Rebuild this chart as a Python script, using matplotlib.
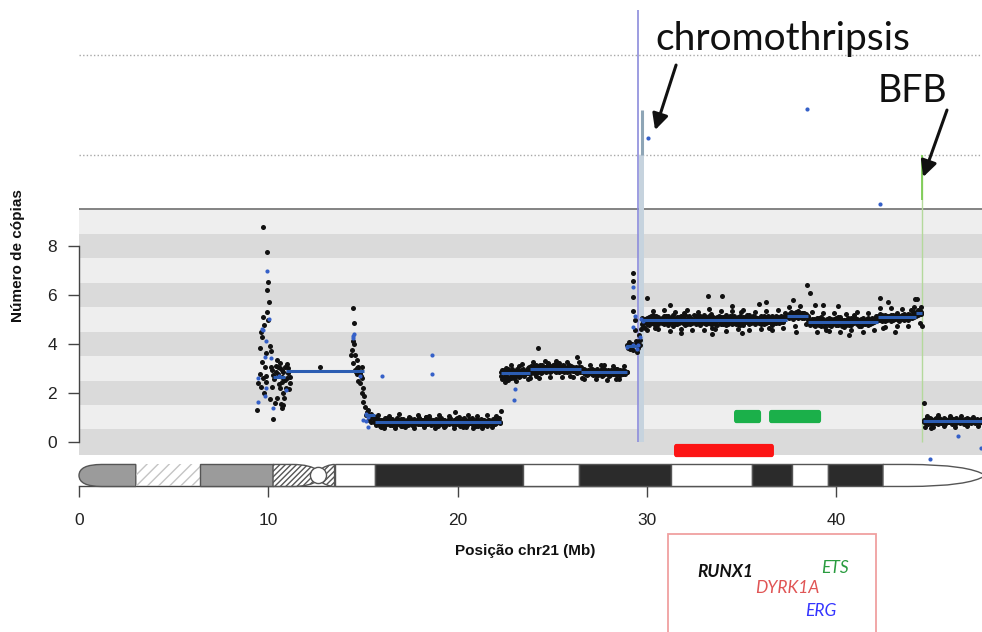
import numpy as np
import matplotlib
matplotlib.use('Agg')
import matplotlib.pyplot as plt
from matplotlib.patches import Rectangle, PathPatch, Ellipse, FancyBboxPatch
from matplotlib.path import Path

# ---------------- data ----------------
x_ticks = [0, 10, 20, 30, 40]
y_ticks = [0, 2, 4, 6, 8]

# scattered bins, region ~10 Mb
cloud_pts = [(9.74, 8.79), (9.95, 7.77), (10.0, 6.52), (9.95, 6.20), (10.05, 5.71), (9.92, 5.29),
             (9.70, 5.11), (10.0, 4.97), (9.79, 4.76), (9.60, 4.50), (9.65, 4.27), (10.09, 3.91),
             (9.56, 3.82), (10.15, 3.72), (9.88, 3.61), (9.65, 3.25), (10.44, 3.34), (10.62, 3.20),
             (10.15, 3.07), (9.83, 3.07), (10.97, 3.18), (11.06, 3.00), (9.56, 2.77), (9.88, 2.70),
             (10.41, 2.86), (10.71, 2.66), (10.88, 2.52), (11.15, 2.39), (9.47, 2.39), (9.60, 2.25),
             (10.18, 2.25), (10.62, 2.18), (10.79, 1.98), (9.79, 1.98), (10.44, 1.77), (10.79, 1.50),
             (9.39, 1.30), (10.26, 0.92), (10.35, 1.57), (10.74, 1.37), (11.15, 2.66), (11.06, 2.80),
             (10.53, 3.07), (10.71, 2.93), (10.26, 2.73), (12.73, 3.07), (10.30, 2.55), (10.50, 2.75),
             (10.60, 3.00), (10.80, 2.85), (10.90, 3.05), (11.00, 2.60), (10.40, 3.10), (10.70, 2.45),
             (10.95, 2.20), (10.55, 2.35), (10.20, 2.95), (9.70, 2.60), (9.90, 2.45), (10.10, 1.75),
             (10.85, 1.80), (10.65, 1.55), (11.10, 2.15)]

# scattered bins, region ~15 Mb
spike_pts = [(14.49, 5.45), (14.53, 4.84), (14.40, 3.75), (14.58, 3.54), (14.35, 3.54), (14.67, 3.34),
             (14.49, 3.20), (14.76, 3.07), (14.58, 2.93), (14.93, 3.07), (14.84, 2.80), (14.67, 2.75),
             (14.93, 2.59), (14.84, 2.39), (15.02, 2.18), (14.93, 1.98), (15.02, 1.64), (15.11, 1.43),
             (15.20, 1.23), (15.37, 1.09), (15.55, 0.96), (15.15, 1.10), (15.30, 0.90), (15.45, 0.80),
             (14.70, 3.00), (14.80, 2.90), (14.62, 2.85), (14.88, 2.70), (14.75, 2.50), (15.05, 1.85),
             (15.25, 1.30), (15.40, 1.15), (15.50, 1.05), (15.35, 0.95), (14.45, 4.10), (14.52, 4.00)]

# scattered bins, region ~29 Mb
jump_pts = [(29.28, 6.88), (29.28, 6.58), (29.28, 5.93), (29.25, 5.36), (30.02, 5.89), (29.37, 4.97),
            (29.37, 4.56), (29.60, 4.36), (29.63, 4.16), (29.04, 4.09), (28.93, 3.95), (29.16, 3.88),
            (29.37, 3.95), (29.55, 3.82), (29.28, 3.75), (29.10, 3.78), (29.46, 3.68), (29.65, 3.95),
            (29.42, 4.10), (29.00, 3.85), (29.20, 4.00), (29.50, 4.05), (29.68, 4.60), (29.72, 4.80),
            (29.75, 5.05)]

# isolated black outliers
out_pts = [(19.88, 1.23), (22.28, 1.27), (24.26, 3.82), (26.29, 3.45), (31.2, 5.60), (33.2, 5.95),
           (33.95, 5.95), (34.5, 5.55), (35.9, 5.65), (36.3, 5.70), (37.7, 5.80), (38.45, 6.40),
           (38.6, 6.10), (38.9, 5.60), (39.3, 5.60), (40.1, 5.55), (42.3, 5.87), (42.75, 5.70),
           (44.15, 5.85), (44.25, 5.83), (31.8, 4.45), (33.45, 4.40), (35.0, 4.45), (37.9, 4.50),
           (40.7, 4.35), (43.1, 4.50), (44.55, 4.75), (44.5, 5.50), (44.65, 1.58), (44.7, 0.62),
           (45.0, 0.58)]

# ragged edges of the dense bands
low_fringe = [(15.8, 1.08), (16.1, 0.58), (16.4, 1.05), (16.7, 0.55), (16.9, 1.12), (17.2, 0.60),
              (17.45, 1.02), (17.7, 0.56), (17.9, 1.08), (18.2, 0.62), (18.5, 1.04), (18.8, 0.57),
              (19.0, 1.10), (19.3, 0.60), (19.55, 1.06), (19.8, 0.55), (20.05, 1.03), (20.3, 0.61),
              (20.55, 1.09), (20.8, 0.58), (21.05, 1.05), (21.3, 0.56), (21.55, 1.11), (21.8, 0.60),
              (22.05, 1.04), (16.25, 0.98), (17.05, 0.63), (17.95, 0.99), (18.95, 0.64), (19.95, 0.99),
              (20.95, 0.63), (21.95, 0.98), (15.95, 0.62), (18.35, 1.00), (20.45, 0.62)]
mid_fringe = [(22.5, 2.45), (22.8, 3.15), (23.1, 2.50), (23.4, 3.18), (23.7, 2.55), (24.0, 3.25),
              (24.3, 2.62), (24.6, 3.28), (24.9, 2.64), (25.2, 3.30), (25.5, 2.66), (25.8, 3.27),
              (26.1, 2.63), (26.4, 3.24), (26.7, 2.58), (27.0, 3.15), (27.3, 2.55), (27.6, 3.12),
              (27.9, 2.52), (28.2, 3.10), (28.5, 2.55), (28.8, 3.08), (22.65, 2.52), (23.25, 3.10),
              (24.15, 2.68), (25.35, 3.22), (26.55, 2.62), (27.75, 3.14), (28.35, 2.58), (25.95, 2.70),
              (24.75, 3.20), (23.85, 2.60)]
high_fringe = [(30.0, 4.55), (30.3, 5.35), (30.6, 4.60), (30.9, 5.40), (31.2, 4.52), (31.5, 5.32),
               (31.8, 4.62), (32.1, 5.38), (32.4, 4.55), (32.7, 5.30), (33.0, 4.58), (33.3, 5.42),
               (33.6, 4.60), (33.9, 5.35), (34.2, 4.54), (34.5, 5.33), (34.8, 4.62), (35.1, 5.40),
               (35.4, 4.56), (35.7, 5.31), (36.0, 4.60), (36.3, 5.36), (36.6, 4.55), (36.9, 5.38),
               (37.2, 4.65), (37.5, 5.50), (37.8, 4.75), (38.1, 5.55), (38.4, 4.80), (38.7, 5.30),
               (39.0, 4.50), (39.3, 5.25), (39.6, 4.52), (39.9, 5.28), (40.2, 4.48), (40.5, 5.22),
               (40.8, 4.55), (41.1, 5.30), (41.4, 4.50), (41.7, 5.26), (42.0, 4.58), (42.3, 5.45),
               (42.6, 4.70), (42.9, 5.48), (43.2, 4.72), (43.5, 5.42), (43.8, 4.75), (44.1, 5.50),
               (44.4, 4.85), (30.45, 4.65), (31.95, 5.28), (33.45, 4.63), (34.95, 5.30), (36.45, 4.64),
               (39.45, 4.58), (40.95, 5.20), (42.45, 4.66), (43.95, 5.40)]
tail_fringe = [(44.8, 1.05), (45.1, 0.62), (45.4, 1.08), (45.7, 0.64), (46.0, 1.04), (46.3, 0.60),
               (46.6, 1.06), (46.9, 0.65), (47.2, 1.02), (47.5, 0.63)]

# blue bins
blue_pts = [(9.95, 6.98), (10.05, 5.03), (9.65, 4.62), (9.70, 4.55), (9.88, 4.13), (9.84, 3.48),
            (10.12, 3.41), (9.47, 2.59), (9.88, 2.18), (9.83, 1.88), (9.43, 1.64), (10.26, 1.39),
            (10.92, 2.11), (10.58, 2.70), (14.47, 4.32), (14.50, 4.24), (14.55, 4.40), (14.85, 2.70),
            (15.15, 1.15), (15.25, 1.00), (15.25, 0.61), (15.15, 0.85), (15.02, 0.89), (16.0, 2.69),
            (18.65, 3.54), (18.65, 2.77), (23.03, 2.14), (22.98, 1.70), (29.28, 6.31), (29.28, 4.70),
            (28.97, 3.88), (29.28, 3.96), (29.55, 3.96), (29.45, 3.80), (29.63, 4.30), (29.37, 5.15),
            (29.70, 5.00), (29.80, 4.95), (30.06, 12.42), (38.46, 13.60), (42.31, 9.71),
            (44.95, -0.69), (46.45, 0.23), (47.63, -0.27)]

# dense band ~0.8 copies (15.6-22.3 Mb)
low_x = [15.60, 15.66, 15.71, 15.78, 15.85, 15.90, 15.97, 16.03, 16.10, 16.16,
         16.22, 16.29, 16.35, 16.41, 16.48, 16.55, 16.61, 16.67, 16.74, 16.80,
         16.86, 16.93, 16.99, 17.06, 17.12, 17.18, 17.25, 17.31, 17.38, 17.44,
         17.50, 17.57, 17.63, 17.70, 17.76, 17.82, 17.89, 17.95, 18.02, 18.08,
         18.14, 18.21, 18.27, 18.34, 18.40, 18.46, 18.53, 18.59, 18.66, 18.72,
         18.78, 18.85, 18.91, 18.98, 19.04, 19.10, 19.17, 19.23, 19.30, 19.36,
         19.42, 19.49, 19.55, 19.62, 19.68, 19.74, 19.81, 19.87, 19.94, 20.00,
         20.06, 20.13, 20.19, 20.26, 20.32, 20.38, 20.45, 20.51, 20.58, 20.64,
         20.70, 20.77, 20.83, 20.90, 20.96, 21.02, 21.09, 21.15, 21.22, 21.28,
         21.34, 21.41, 21.47, 21.54, 21.60, 21.66, 21.73, 21.79, 21.86, 21.92,
         21.98, 22.05, 22.11, 22.18, 22.24]
low_y1 = [0.95, 0.88, 0.78, 0.85, 0.72, 0.81, 0.90, 0.76, 0.83, 0.70,
          0.79, 0.86, 0.74, 0.92, 0.80, 0.68, 0.84, 0.77, 0.89, 0.73,
          0.82, 0.75, 0.91, 0.79, 0.70, 0.86, 0.81, 0.74, 0.88, 0.77,
          0.83, 0.69, 0.80, 0.93, 0.76, 0.85, 0.72, 0.81, 0.78, 0.87,
          0.74, 0.90, 0.79, 0.83, 0.71, 0.86, 0.77, 0.82, 0.75, 0.89,
          0.80, 0.73, 0.85, 0.78, 0.92, 0.76, 0.81, 0.70, 0.87, 0.79,
          0.84, 0.75, 0.90, 0.77, 0.82, 0.72, 0.88, 0.80, 0.74, 0.86,
          0.79, 0.83, 0.71, 0.91, 0.77, 0.85, 0.73, 0.82, 0.78, 0.89,
          0.75, 0.81, 0.86, 0.72, 0.80, 0.93, 0.77, 0.84, 0.74, 0.87,
          0.79, 0.70, 0.85, 0.81, 0.76, 0.90, 0.78, 0.83, 0.73, 0.88,
          0.80, 0.76, 0.85, 0.79, 0.82]
low_y2 = [0.82, 1.00, 0.70, 0.91, 0.79, 0.66, 0.87, 0.83, 0.74, 0.95,
          0.71, 0.80, 0.89, 0.68, 0.84, 0.93, 0.75, 0.81, 0.70, 0.98,
          0.77, 0.86, 0.65, 0.83, 0.92, 0.72, 0.79, 0.88, 0.67, 0.85,
          0.96, 0.73, 0.80, 0.69, 0.90, 0.78, 0.84, 0.97, 0.71, 0.76,
          0.88, 0.67, 0.82, 1.02, 0.74, 0.79, 0.91, 0.70, 0.86, 0.77,
          0.68, 0.94, 0.80, 0.73, 0.85, 0.99, 0.72, 0.83, 0.90, 0.66,
          0.78, 0.87, 0.71, 0.95, 0.81, 0.76, 0.69, 0.84, 0.92, 0.73,
          0.88, 0.65, 0.80, 0.77, 0.96, 0.72, 0.86, 0.70, 0.91, 0.75,
          0.83, 0.97, 0.68, 0.79, 0.89, 0.74, 0.66, 0.85, 0.93, 0.71,
          0.82, 0.88, 0.76, 0.64, 0.90, 0.79, 0.85, 0.70, 0.94, 0.77,
          0.72, 0.89, 0.81, 0.95, 0.78]

# dense band ~2.9 copies (22.3-29.0 Mb)
mid_x = [22.30, 22.36, 22.43, 22.49, 22.56, 22.62, 22.68, 22.75, 22.81, 22.88,
         22.94, 23.00, 23.07, 23.13, 23.20, 23.26, 23.32, 23.39, 23.45, 23.52,
         23.58, 23.64, 23.71, 23.77, 23.84, 23.90, 23.96, 24.03, 24.09, 24.16,
         24.22, 24.28, 24.35, 24.41, 24.48, 24.54, 24.60, 24.67, 24.73, 24.80,
         24.86, 24.92, 24.99, 25.05, 25.12, 25.18, 25.24, 25.31, 25.37, 25.44,
         25.50, 25.56, 25.63, 25.69, 25.76, 25.82, 25.88, 25.95, 26.01, 26.08,
         26.14, 26.20, 26.27, 26.33, 26.40, 26.46, 26.52, 26.59, 26.65, 26.72,
         26.78, 26.84, 26.91, 26.97, 27.04, 27.10, 27.16, 27.23, 27.29, 27.36,
         27.42, 27.48, 27.55, 27.61, 27.68, 27.74, 27.80, 27.87, 27.93, 28.00,
         28.06, 28.12, 28.19, 28.25, 28.32, 28.38, 28.44, 28.51, 28.57, 28.64,
         28.70, 28.76, 28.83, 28.89, 28.95]
mid_y1 = [2.70, 2.95, 2.62, 2.88, 2.55, 2.80, 2.98, 2.66, 2.85, 2.74,
          2.90, 2.60, 2.83, 2.97, 2.72, 2.86, 2.68, 2.92, 2.79, 2.84,
          2.75, 2.93, 2.81, 3.05, 2.88, 2.99, 2.84, 3.08, 2.92, 2.86,
          3.02, 2.90, 3.12, 2.95, 2.83, 3.06, 2.98, 2.88, 3.10, 2.93,
          2.85, 3.04, 2.96, 3.14, 2.89, 3.00, 2.92, 3.07, 2.84, 2.97,
          3.03, 2.90, 3.11, 2.94, 2.86, 3.05, 2.99, 2.91, 3.09, 2.88,
          2.96, 3.01, 2.87, 2.93, 3.06, 2.84, 2.98, 2.90, 2.82, 2.95,
          2.80, 2.91, 2.75, 2.88, 2.97, 2.78, 2.86, 2.93, 2.72, 2.84,
          2.90, 2.77, 2.87, 2.96, 2.74, 2.85, 2.92, 2.79, 2.88, 2.70,
          2.83, 2.94, 2.76, 2.89, 2.81, 2.97, 2.73, 2.86, 2.92, 2.78,
          2.88, 2.75, 2.91, 2.83, 2.87]
mid_y2 = [2.85, 2.58, 2.92, 2.76, 3.00, 2.65, 2.83, 2.90, 2.60, 2.96,
          2.77, 2.88, 2.69, 2.81, 2.94, 2.63, 2.89, 2.75, 2.98, 2.70,
          2.91, 2.80, 3.00, 2.86, 2.78, 3.10, 2.93, 2.82, 3.02, 3.15,
          2.87, 3.08, 2.94, 2.82, 3.13, 2.99, 3.05, 2.86, 2.96, 3.18,
          3.01, 2.88, 3.09, 2.93, 3.16, 2.87, 3.04, 2.95, 3.11, 2.90,
          2.94, 3.12, 2.85, 3.03, 2.97, 2.89, 3.14, 2.92, 3.00, 3.07,
          2.88, 2.92, 3.04, 2.79, 2.99, 2.91, 3.06, 2.85, 2.96, 2.76,
          2.89, 2.73, 2.94, 2.84, 2.79, 2.99, 2.71, 2.90, 2.83, 2.96,
          2.74, 2.87, 2.93, 2.69, 2.81, 2.98, 2.77, 2.86, 2.95, 2.82,
          2.72, 2.89, 2.80, 2.95, 2.76, 2.84, 2.99, 2.79, 2.71, 2.90,
          2.81, 2.93, 2.77, 2.86, 2.84]

# dense band ~5 copies (29.8-44.5 Mb)
high_x = [29.8, 29.9, 30.0, 30.1, 30.2, 30.3, 30.4, 30.5, 30.6, 30.7,
          30.8, 30.9, 31.0, 31.1, 31.2, 31.3, 31.4, 31.5, 31.6, 31.7,
          31.8, 31.9, 32.0, 32.1, 32.2, 32.3, 32.4, 32.5, 32.6, 32.7,
          32.8, 32.9, 33.0, 33.1, 33.2, 33.3, 33.4, 33.5, 33.6, 33.7,
          33.8, 33.9, 34.0, 34.1, 34.2, 34.3, 34.4, 34.5, 34.6, 34.7,
          34.8, 34.9, 35.0, 35.1, 35.2, 35.3, 35.4, 35.5, 35.6, 35.7,
          35.8, 35.9, 36.0, 36.1, 36.2, 36.3, 36.4, 36.5, 36.6, 36.7,
          36.8, 36.9, 37.0, 37.1, 37.2, 37.3, 37.4, 37.5, 37.6, 37.7,
          37.8, 37.9, 38.0, 38.1, 38.2, 38.3, 38.4, 38.5, 38.6, 38.7,
          38.8, 38.9, 39.0, 39.1, 39.2, 39.3, 39.4, 39.5, 39.6, 39.7,
          39.8, 39.9, 40.0, 40.1, 40.2, 40.3, 40.4, 40.5, 40.6, 40.7,
          40.8, 40.9, 41.0, 41.1, 41.2, 41.3, 41.4, 41.5, 41.6, 41.7,
          41.8, 41.9, 42.0, 42.1, 42.2, 42.3, 42.4, 42.5, 42.6, 42.7,
          42.8, 42.9, 43.0, 43.1, 43.2, 43.3, 43.4, 43.5, 43.6, 43.7,
          43.8, 43.9, 44.0, 44.1, 44.2, 44.3, 44.4, 44.5]
high_y1 = [4.70, 4.88, 5.05, 4.92, 5.12, 4.85, 5.00, 4.78, 5.10, 4.95,
           5.06, 4.82, 4.97, 5.15, 4.88, 5.02, 4.75, 4.93, 5.09, 4.86,
           5.01, 4.91, 5.18, 4.80, 4.96, 5.07, 4.84, 4.99, 5.13, 4.89,
           4.77, 5.04, 4.94, 5.11, 4.87, 5.00, 4.81, 5.08, 4.92, 4.98,
           5.14, 4.83, 4.95, 5.05, 4.79, 5.02, 4.90, 5.16, 4.86, 4.97,
           5.03, 4.76, 4.93, 5.10, 4.88, 5.01, 4.82, 4.96, 5.12, 4.85,
           4.99, 5.07, 4.80, 4.94, 5.04, 4.87, 5.13, 4.91, 4.78, 5.00,
           4.95, 5.09, 4.84, 5.02, 4.89, 5.06, 5.17, 5.22, 5.08, 5.25,
           5.12, 5.30, 5.05, 5.19, 5.27, 5.10, 5.21, 4.98, 4.85, 5.02,
           4.78, 4.93, 4.86, 5.04, 4.75, 4.90, 4.82, 5.00, 4.88, 4.73,
           4.95, 4.84, 5.06, 4.79, 4.92, 4.87, 4.70, 4.99, 4.83, 4.94,
           4.76, 5.01, 4.89, 4.81, 4.97, 4.72, 4.91, 4.85, 5.03, 4.78,
           4.93, 4.86, 5.00, 4.95, 5.12, 4.98, 5.18, 5.05, 4.92, 5.15,
           5.02, 5.20, 4.96, 5.10, 5.06, 4.94, 5.14, 5.00, 5.22, 5.08,
           4.99, 5.16, 5.04, 5.11, 5.28, 5.20, 5.34, 5.26]
high_y2 = [4.95, 4.66, 4.82, 5.10, 4.86, 5.18, 4.93, 5.08, 4.80, 5.03,
           4.85, 5.14, 4.90, 4.79, 5.06, 4.87, 5.19, 5.01, 4.83, 5.11,
           4.88, 5.09, 4.76, 5.02, 5.15, 4.84, 4.97, 5.20, 4.81, 5.05,
           5.12, 4.89, 5.17, 4.80, 5.04, 4.91, 5.21, 4.86, 5.07, 4.78,
           4.92, 5.10, 4.83, 4.98, 5.19, 4.85, 5.06, 4.81, 5.13, 4.90,
           4.82, 5.15, 5.00, 4.79, 5.08, 4.92, 5.18, 4.87, 4.95, 5.11,
           5.05, 4.84, 5.14, 4.98, 4.81, 5.09, 4.90, 5.02, 5.16, 4.86,
           5.12, 4.88, 5.03, 5.15, 4.97, 5.26, 5.08, 5.14, 5.31, 5.03,
           5.24, 5.09, 5.33, 5.16, 5.06, 5.28, 5.12, 5.08, 4.78, 4.96,
           5.02, 4.74, 4.97, 4.83, 5.08, 4.88, 4.69, 4.95, 5.06, 4.84,
           4.80, 5.03, 4.77, 4.96, 5.09, 4.74, 4.98, 4.86, 5.05, 4.79,
           4.92, 4.84, 5.07, 4.95, 4.73, 5.02, 4.80, 4.99, 4.87, 5.05,
           4.81, 5.06, 4.89, 5.14, 4.96, 5.21, 4.93, 5.09, 5.17, 4.99,
           5.13, 4.95, 5.18, 5.03, 5.25, 4.97, 5.11, 5.19, 4.98, 5.15,
           5.23, 5.05, 5.19, 5.30, 5.12, 5.38, 5.22, 5.30]
high_y3 = [4.84, 5.01, 4.91, 4.79, 5.07, 4.98, 4.83, 5.14, 4.89, 4.94,
           5.00, 4.92, 5.13, 4.86, 4.97, 5.10, 4.91, 4.82, 5.04, 4.95,
           5.12, 4.86, 4.99, 4.90, 5.08, 4.80, 5.03, 4.88, 4.97, 5.16,
           4.93, 5.06, 4.84, 5.00, 4.95, 5.13, 4.88, 5.02, 4.83, 5.10,
           4.97, 4.88, 5.08, 4.92, 5.01, 4.80, 5.12, 4.94, 5.04, 4.83,
           5.09, 4.95, 4.85, 5.02, 4.91, 5.17, 4.87, 5.05, 4.98, 4.81,
           4.92, 5.00, 5.10, 4.85, 5.12, 4.93, 4.97, 5.07, 4.89, 5.03,
           4.86, 5.02, 4.95, 4.91, 5.10, 5.12, 5.20, 5.06, 5.18, 5.14,
           5.18, 5.08, 5.22, 5.11, 5.25, 5.05, 5.17, 5.13, 4.90, 4.84,
           4.95, 4.88, 5.05, 4.79, 4.92, 5.02, 4.85, 4.91, 4.76, 5.01,
           4.89, 4.94, 4.83, 5.08, 4.86, 4.99, 4.92, 4.78, 4.96, 4.88,
           5.04, 4.87, 4.93, 5.00, 4.85, 4.94, 5.06, 4.82, 4.95, 4.91,
           4.97, 4.90, 5.02, 5.06, 5.00, 5.12, 5.04, 5.16, 5.01, 5.10,
           5.05, 5.14, 5.08, 5.00, 5.17, 5.11, 5.03, 5.09, 5.14, 5.02,
           5.12, 5.20, 5.09, 5.24, 5.18, 5.29, 5.31, 5.22]

# dense band ~0.85 copies (44.6 Mb - end)
tail_x = [44.65, 44.72, 44.79, 44.86, 44.93, 45.00, 45.07, 45.14, 45.21, 45.28, 45.35,
          45.42, 45.49, 45.56, 45.63, 45.70, 45.77, 45.84, 45.91, 45.98, 46.05, 46.12,
          46.19, 46.26, 46.33, 46.40, 46.47, 46.54, 46.61, 46.68, 46.75, 46.82, 46.89,
          46.96, 47.03, 47.10, 47.17, 47.24, 47.31, 47.38, 47.45, 47.52, 47.59, 47.66]
tail_y1 = [0.80, 0.92, 0.76, 0.88, 0.95, 0.82, 0.70, 0.89, 0.93, 0.78, 0.86,
           0.97, 0.81, 0.90, 0.75, 0.87, 0.94, 0.83, 0.79, 0.91, 0.86, 0.74,
           0.92, 0.84, 0.96, 0.80, 0.88, 0.77, 0.93, 0.85, 0.90, 0.79, 0.95,
           0.83, 0.87, 0.76, 0.91, 0.84, 0.89, 0.81, 0.94, 0.78, 0.86, 0.88]
tail_y2 = [0.88, 0.78, 0.95, 0.72, 0.84, 0.91, 0.86, 0.76, 0.82, 0.97, 0.73,
           0.85, 0.93, 0.77, 0.89, 0.96, 0.74, 0.90, 0.87, 0.80, 0.95, 0.83,
           0.78, 0.92, 0.75, 0.89, 0.82, 0.94, 0.79, 0.86, 0.73, 0.91, 0.84,
           0.77, 0.93, 0.88, 0.80, 0.95, 0.76, 0.90, 0.82, 0.87, 0.79, 0.92]

# segmentation (mean copy number per segment)
seg_start = [10.25, 10.95, 15.10, 15.65, 22.30, 23.80, 26.50, 28.90, 29.75, 37.40, 38.50, 42.20, 44.20, 44.60]
seg_end = [10.90, 15.05, 15.65, 22.30, 23.80, 26.50, 28.95, 29.50, 37.40, 38.50, 42.20, 44.20, 44.55, 47.80]
seg_val = [2.64, 2.89, 1.08, 0.80, 2.82, 2.96, 2.86, 3.90, 4.97, 5.15, 4.90, 5.08, 5.25, 0.85]

# gene bars
gene_start = [34.60, 36.45, 31.43]
gene_end = [36.03, 39.20, 36.71]
gene_bottom = [0.76, 0.76, -0.63]
gene_top = [1.30, 1.30, -0.09]
gene_color = ['#1bb04a', '#1bb04a', '#fc1414']

# chromosome 21 ideogram bands (Mb)
band_start = [0.0, 3.0, 6.4, 10.25, 13.5, 15.65, 23.45, 26.4, 31.27, 35.55, 37.66, 39.57, 42.47]
band_end = [3.0, 6.4, 10.25, 13.5, 15.65, 23.45, 26.4, 31.27, 35.55, 37.66, 39.57, 42.47, 47.9]
band_kind = ['pter', 'stalk', 'gvar', 'cen', 'neg', 'pos', 'neg', 'pos', 'neg', 'pos', 'neg', 'pos', 'qter']

# background stripes
stripe_edges = [-0.55, 0.5, 1.5, 2.5, 3.5, 4.5, 5.5, 6.5, 7.5, 8.5, 9.5]

# ---------------- figure ----------------
fig = plt.figure(figsize=(9.82, 6.32), dpi=100)
ax = fig.add_axes([0, 0, 1, 1])
ax.set_xlim(-4.173, 47.70)
ax.set_ylim(-7.78, 18.06)

# stripes
for i in range(len(stripe_edges) - 1):
    col = '#dadada' if i % 2 == 0 else '#eeeeee'
    ax.fill_between([0, 48], stripe_edges[i], stripe_edges[i + 1], color=col, lw=0, zorder=0)
ax.hlines(9.5, 0, 48, color='#7a7a7a', lw=1.3, zorder=1)
ax.hlines([11.72, 15.81], 0, 48, color='#a8a8a8', lw=1.0, linestyles=(0, (1, 1.6)), zorder=1)

# vertical marks (chromothripsis / BFB)
ax.fill_betweenx([0.0, 11.72], 29.56, 29.86, color='#c6d3de', lw=0, zorder=1.2)
ax.vlines(29.53, 0.0, 17.65, color='#8c8cdc', lw=1.2, zorder=1.3)
ax.vlines(29.74, 11.72, 13.56, color='#8ea5b6', lw=2.2, zorder=1.3)
ax.vlines(44.53, 0.0, 11.72, color='#b4d99c', lw=1.0, zorder=1.3)
ax.vlines(44.53, 9.9, 11.72, color='#7dcc55', lw=1.3, zorder=1.3)

# points
dot_kw = dict(s=13, c='#111111', linewidths=0, zorder=3)
for pts in (cloud_pts, spike_pts, jump_pts, out_pts, low_fringe, mid_fringe, high_fringe, tail_fringe):
    ax.scatter([p[0] for p in pts], [p[1] for p in pts], **dot_kw)
for xs, ys in ((low_x, low_y1), (low_x, low_y2), (mid_x, mid_y1), (mid_x, mid_y2),
               (high_x, high_y1), (high_x, high_y2), (high_x, high_y3),
               (tail_x, tail_y1), (tail_x, tail_y2)):
    n = min(len(xs), len(ys))
    ax.scatter(xs[:n], ys[:n], **dot_kw)
ax.scatter([p[0] for p in blue_pts], [p[1] for p in blue_pts], s=9, c='#3560c8', linewidths=0, zorder=3.2)

# segments
ax.hlines(seg_val, seg_start, seg_end, colors='#2c5db2', lw=2.2, zorder=4)

# gene bars
for g0, g1, b, t, c in zip(gene_start, gene_end, gene_bottom, gene_top, gene_color):
    ax.add_patch(FancyBboxPatch((g0, b), g1 - g0, t - b, boxstyle='round,pad=0,rounding_size=0.12',
                                fc=c, ec='none', zorder=5))

# ideogram
top, bot = -0.93, -1.83
mid = (top + bot) / 2
EDGE = '#555555'
for b0, b1, kind in zip(band_start, band_end, band_kind):
    if kind == 'pter':
        verts = [(b1, top), (1.2, top), (0.0, top), (0.0, mid), (0.0, bot), (1.2, bot), (b1, bot), (b1, top)]
        codes = [Path.MOVETO, Path.LINETO, Path.CURVE3, Path.CURVE3, Path.CURVE3, Path.CURVE3,
                 Path.LINETO, Path.CLOSEPOLY]
        ax.add_patch(PathPatch(Path(verts, codes), fc='#9b9b9b', ec=EDGE, lw=1, zorder=6))
    elif kind == 'stalk':
        ax.add_patch(Rectangle((b0, bot), b1 - b0, top - bot, fill=False, hatch='///',
                               ec='#c4c4c4', lw=0, zorder=6))
    elif kind == 'gvar':
        ax.add_patch(Rectangle((b0, bot), b1 - b0, top - bot, fc='#9b9b9b', ec=EDGE, lw=1, zorder=6))
    elif kind == 'cen':
        c = 12.65
        verts = [(b0, top), (11.3, top), (12.2, top), (c, mid + 0.2), (13.1, top), (b1, top),
                 (b1, bot), (13.1, bot), (c, mid - 0.2), (12.2, bot), (11.3, bot), (b0, bot), (b0, top)]
        codes = [Path.MOVETO, Path.LINETO, Path.CURVE3, Path.CURVE3, Path.CURVE3, Path.CURVE3,
                 Path.LINETO, Path.CURVE3, Path.CURVE3, Path.CURVE3, Path.CURVE3, Path.LINETO, Path.CLOSEPOLY]
        ax.add_patch(PathPatch(Path(verts, codes), fc='white', ec=EDGE, hatch='//////', lw=1, zorder=6))
        ax.add_patch(Ellipse((c, mid), 0.85, 0.66, fc='white', ec=EDGE, lw=1, zorder=7))
    elif kind == 'qter':
        verts = [(b0, top), (43.8, top), (47.0, top), (b1, mid), (47.0, bot), (43.8, bot), (b0, bot), (b0, top)]
        codes = [Path.MOVETO, Path.LINETO, Path.CURVE3, Path.CURVE3, Path.CURVE3, Path.CURVE3,
                 Path.LINETO, Path.CLOSEPOLY]
        ax.add_patch(PathPatch(Path(verts, codes), fc='white', ec=EDGE, lw=1, zorder=6))
    else:
        fc = '#2b2b2b' if kind == 'pos' else 'white'
        ax.add_patch(Rectangle((b0, bot), b1 - b0, top - bot, fc=fc, ec=EDGE, lw=1, zorder=6))

# axes
for s in ('top', 'right'):
    ax.spines[s].set_visible(False)
ax.spines['left'].set_position(('data', 0.0))
ax.spines['left'].set_bounds(0, 8)
ax.spines['bottom'].set_position(('data', bot))
ax.spines['bottom'].set_bounds(0, 40)
for s in ('left', 'bottom'):
    ax.spines[s].set_color('#444444')
    ax.spines[s].set_linewidth(1.0)
ax.set_xticks(x_ticks)
ax.set_yticks(y_ticks)
ax.set_xticklabels([str(v) for v in x_ticks], fontfamily='Liberation Sans')
ax.set_yticklabels([str(v) for v in y_ticks], fontfamily='Liberation Sans')
ax.tick_params(axis='both', direction='out', length=8, width=1, color='#444444',
               labelsize=12.5, labelcolor='#222222')
ax.tick_params(axis='y', pad=8)
ax.tick_params(axis='x', pad=11)

ax.text(23.56, -4.45, 'Posição chr21 (Mb)', ha='center', va='center', fontsize=11,
        fontweight='bold', family='Liberation Sans', color='#111111')
ax.text(-3.22, 7.63, 'Número de cópias', ha='center', va='center', rotation=90, fontsize=11,
        fontweight='bold', family='Liberation Sans', color='#111111')

# annotations
ax.text(30.43, 16.01, 'chromothripsis', ha='left', va='baseline', fontsize=28, family='Lato', color='#111111')
ax.text(42.21, 13.89, 'BFB', ha='left', va='baseline', fontsize=27, family='Lato', color='#111111')
arrow_kw = dict(arrowstyle='-|>', color='#111111', lw=2.2, mutation_scale=24, shrinkA=0, shrinkB=0)
ax.annotate('', xy=(30.43, 12.74), xytext=(31.54, 15.40), arrowprops=arrow_kw)
ax.annotate('', xy=(44.59, 10.82), xytext=(45.85, 13.56), arrowprops=arrow_kw)

# gene legend box
ax.add_patch(Rectangle((31.11, -8.5), 10.99, 4.73, fill=False, ec='#f0a0a0', lw=1.3, zorder=6, clip_on=False))
ax.text(34.13, -5.34, 'RUNX1', ha='center', va='center', fontsize=12.5, family='Lato',
        style='italic', fontweight='bold', color='#111111')
ax.text(37.40, -5.99, 'DYRK1A', ha='center', va='center', fontsize=12.5, family='Lato',
        style='italic', color='#e05555')
ax.text(39.94, -5.17, 'ETS', ha='center', va='center', fontsize=12.5, family='Lato',
        style='italic', color='#2a9c40')
ax.text(39.20, -6.92, 'ERG', ha='center', va='center', fontsize=12.5, family='Lato',
        style='italic', color='#3535ff')

fig.savefig('out.png', dpi=100)
